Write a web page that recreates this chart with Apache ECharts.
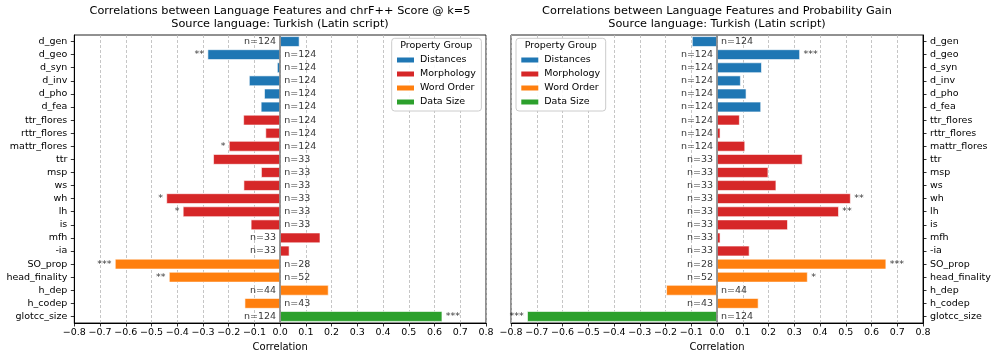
<!DOCTYPE html>
<html>
<head>
<meta charset="utf-8">
<script src="https://cdn.jsdelivr.net/npm/echarts@6/dist/echarts.min.js"></script>
<style>html,body{margin:0;padding:0;background:#fff}#c{width:997px;height:360px}</style>
</head>
<body>
<div id="c"></div>
<script>
const categories = ['d_gen','d_geo','d_syn','d_inv','d_pho','d_fea','ttr_flores','rttr_flores','mattr_flores','ttr','msp','ws','wh','lh','is','mfh','-ia','SO_prop','head_finality','h_dep','h_codep','glotcc_size'];
const nValues = [124,124,124,124,124,124,124,124,124,33,33,33,33,33,33,33,33,28,52,44,43,124];
const groupOf = ['Distances','Distances','Distances','Distances','Distances','Distances',
  'Morphology','Morphology','Morphology','Morphology','Morphology','Morphology','Morphology','Morphology','Morphology','Morphology','Morphology',
  'Word Order','Word Order','Word Order','Word Order','Data Size'];
const groups = ['Distances','Morphology','Word Order','Data Size'];
const groupColors = ['#1f77b4','#d62728','#ff7f0e','#2ca02c'];

const chrfCorr = [0.075,-0.282,-0.012,-0.121,-0.062,-0.075,-0.143,-0.057,-0.199,-0.260,-0.074,-0.142,-0.442,-0.378,-0.114,0.156,0.036,-0.642,-0.432,0.188,-0.138,0.630];
const chrfStars = ['','**','','','','','','','*','','','','*','*','','','','***','**','','','***'];

const gainCorr = [-0.097,0.322,0.174,0.092,0.114,0.171,0.088,0.013,0.109,0.332,0.199,0.230,0.519,0.473,0.275,0.013,0.126,0.657,0.352,-0.197,0.161,-0.737];
const gainStars = ['','***','','','','','','','','','','','**','**','','','','***','*','','','***'];

const titlesLeft = ['Correlations between Language Features and chrF++ Score @ k=5','Source language: Turkish (Latin script)'];
const titlesRight = ['Correlations between Language Features and Probability Gain','Source language: Turkish (Latin script)'];

const FONT = 'DejaVu Sans';
const fmtTick = v => Math.abs(v) < 1e-9 ? '0.0' : (v < 0 ? '\u2212' : '') + Math.abs(v).toFixed(1);

function panelSeries(idx, values, stars) {
  const out = [];
  groups.forEach((g, gi) => {
    const s = {
      type: 'bar', name: g, xAxisIndex: idx, yAxisIndex: idx, stack: 'p' + idx,
      barCategoryGap: '20%',
      itemStyle: { color: groupColors[gi], borderColor: '#fff', borderWidth: 0.6 },
      data: values.map((v, i) => groupOf[i] === g ? v : '-'),
      z: 2
    };
    if (gi === 0) {
      s.markLine = {
        silent: true, symbol: 'none', label: { show: false },
        lineStyle: { color: '#808080', width: 1.6, type: 'solid' },
        data: [{ xAxis: 0 }], z: 3
      };
    }
    out.push(s);
  });
  out.push({
    type: 'scatter', name: 'n' + idx, xAxisIndex: idx, yAxisIndex: idx,
    symbolSize: 1, itemStyle: { color: 'transparent' }, silent: true, z: 5,
    data: values.map((v, i) => ({
      value: [0, i],
      label: { show: true, position: v > 0 ? 'left' : 'right', distance: 3.5,
        formatter: 'n=' + nValues[i], fontFamily: FONT, fontSize: 9.5, color: '#000' }
    }))
  });
  out.push({
    type: 'scatter', name: 's' + idx, xAxisIndex: idx, yAxisIndex: idx,
    symbolSize: 1, itemStyle: { color: 'transparent' }, silent: true, z: 5,
    data: values.map((v, i) => ({
      value: [v, i],
      label: { show: stars[i] !== '', position: v > 0 ? 'right' : 'left', distance: 3,
        formatter: stars[i] || ' ', fontFamily: FONT, fontSize: 9.5, color: '#000' }
    }))
  });
  return out;
}

function xAxisFor(idx) {
  return {
    type: 'value', gridIndex: idx, min: -0.8, max: 0.8, interval: 0.1,
    axisLine: { show: true, onZero: false, lineStyle: { color: '#000', width: 1 } },
    axisTick: { show: true, length: 3.5, lineStyle: { color: '#000', width: 0.8 } },
    axisLabel: { fontFamily: FONT, fontSize: 9.5, color: '#000', margin: 5, formatter: fmtTick },
    splitLine: { show: true, lineStyle: { color: '#b8b8b8', width: 0.8, type: [3, 2] } },
    name: 'Correlation', nameLocation: 'middle', nameGap: 18,
    nameTextStyle: { fontFamily: FONT, fontSize: 10, color: '#000' }
  };
}
function yAxisFor(idx, pos) {
  return {
    type: 'category', gridIndex: idx, data: categories, inverse: true, position: pos,
    axisLine: { show: true, onZero: false, lineStyle: { color: '#000', width: 1 } },
    axisTick: { show: true, alignWithLabel: true, length: 3.5, lineStyle: { color: '#000', width: 0.8 } },
    axisLabel: { fontFamily: FONT, fontSize: 9.5, color: '#000', margin: 7 },
    splitLine: { show: false }
  };
}

function titleText(lines, cx) {
  return lines.map((t, k) => ({
    type: 'text', x: cx, y: 11.5 + k * 12.6, z: 100,
    style: { text: t, fontFamily: FONT, fontSize: 11.3, fill: '#000', align: 'center', verticalAlign: 'middle' }
  }));
}

function legendFor(left) {
  return {
    orient: 'vertical', left: left, top: 38.3, data: groups,
    icon: 'rect', itemWidth: 19, itemHeight: 7, itemGap: 3,
    padding: [16.2, 5.5, 3.5, 3.3],
    backgroundColor: 'rgba(255,255,255,0.85)', borderColor: '#cccccc', borderWidth: 1, borderRadius: 3,
    textStyle: { fontFamily: FONT, fontSize: 9.5, color: '#000', lineHeight: 11 },
    selectedMode: false
  };
}

const chart = echarts.init(document.getElementById('c'), null, { renderer: 'canvas' });
chart.setOption({
  animation: false,
  backgroundColor: '#fff',
  grid: [
    { left: 74.3, right: 511, top: 35, bottom: 37, show: true, borderColor: '#222', borderWidth: 1, backgroundColor: 'transparent' },
    { left: 511, right: 74, top: 35, bottom: 37, show: true, borderColor: '#222', borderWidth: 1, backgroundColor: 'transparent' }
  ],
  xAxis: [xAxisFor(0), xAxisFor(1)],
  yAxis: [yAxisFor(0, 'left'), yAxisFor(1, 'right')],
  legend: [legendFor(391.7), legendFor(516)],
  graphic: [
    ...titleText(titlesLeft, 280),
    ...titleText(titlesRight, 717),
    { type: 'text', x: 436.3, y: 46, z: 100, style: { text: 'Property Group', fontFamily: FONT, fontSize: 9.5, fill: '#000', align: 'center', verticalAlign: 'middle' } },
    { type: 'text', x: 560.7, y: 46, z: 100, style: { text: 'Property Group', fontFamily: FONT, fontSize: 9.5, fill: '#000', align: 'center', verticalAlign: 'middle' } }
  ],
  series: [...panelSeries(0, chrfCorr, chrfStars), ...panelSeries(1, gainCorr, gainStars)]
});
</script>
</body>
</html>
